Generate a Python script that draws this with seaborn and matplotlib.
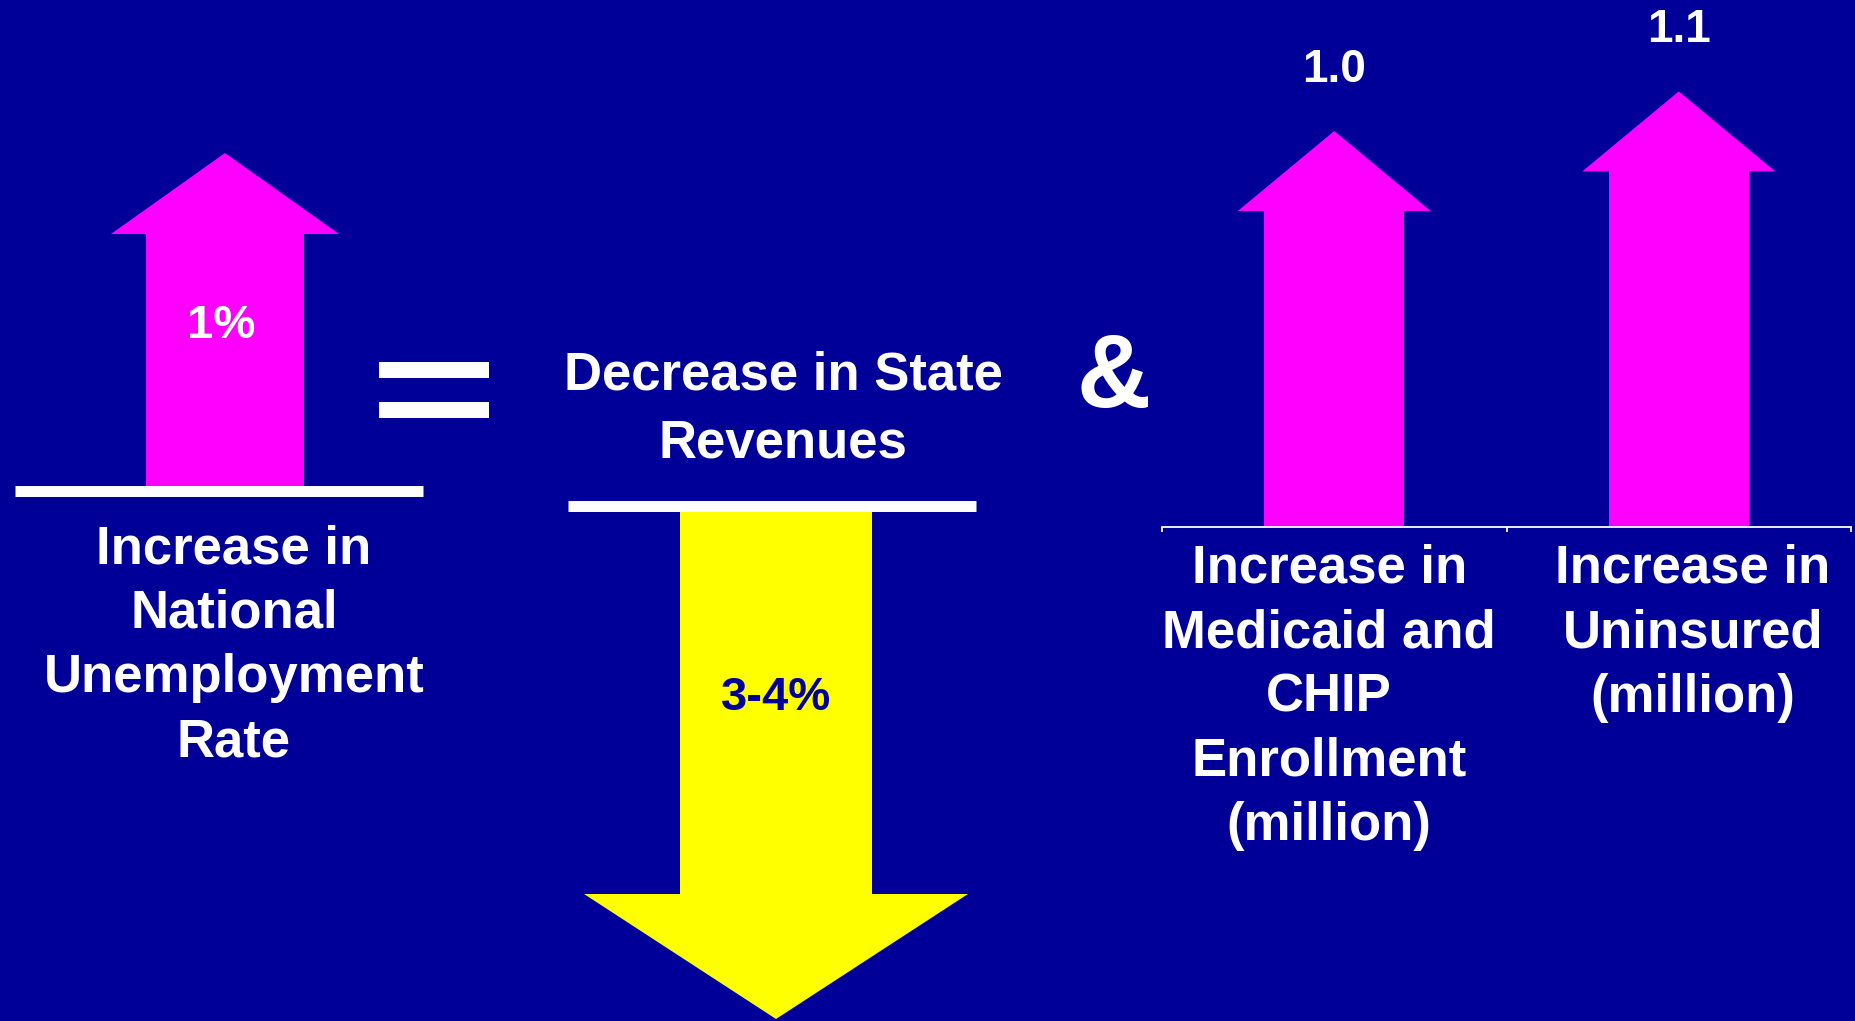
import matplotlib
matplotlib.use("Agg")
import matplotlib.pyplot as plt
from matplotlib.patches import Polygon, Rectangle
from matplotlib.transforms import ScaledTranslation
import seaborn as sns
import pandas as pd

# ---------------- data ----------------
unemployment_label = "Increase in\nNational\nUnemployment\nRate"
unemployment_rise = 1.0            # percentage points
unemployment_text = "1%"

revenue_label = "Decrease in State\nRevenues"
revenue_drop_range = [3.0, 4.0]    # percent
revenue_text = "3-4%"

coverage_categories = [
    "Increase in\nMedicaid and\nCHIP\nEnrollment\n(million)",
    "Increase in\nUninsured\n(million)",
]
coverage_values = [1.0, 1.1]       # million people
coverage_texts = ["1.0", "1.1"]

# ---------------- style ----------------
BG = "#000099"
MAGENTA = "#FF00FF"
YELLOW = "#FFFF00"
WHITE = "#FFFFFF"

W, H, DPI = 1856, 1021, 100

sns.set_theme(style="white")
plt.rcParams["font.family"] = ["Liberation Sans", "DejaVu Sans"]
plt.rcParams["font.weight"] = "bold"

fig = plt.figure(figsize=(W / DPI, H / DPI), dpi=DPI, facecolor=BG)


def px_axes(x0, y_top, x1, y_bottom):
    """Axes placed by pixel box measured from the top-left corner."""
    return fig.add_axes([x0 / W, 1 - y_bottom / H, (x1 - x0) / W, (y_bottom - y_top) / H])


def clear_axes(ax):
    ax.set_facecolor("none")
    for s in ax.spines.values():
        s.set_visible(False)
    ax.set_xticks([])
    ax.set_yticks([])
    ax.set_xlabel("")
    ax.set_ylabel("")


def base_bar(ax, side):
    sp = ax.spines[side]
    sp.set_visible(True)
    sp.set_color(WHITE)
    sp.set_linewidth(7.9)
    sp.set_capstyle("butt")


def arrow_head(ax, x, base, tip, width, color):
    ax.add_patch(Polygon([[x - width / 2, base], [x + width / 2, base], [x, tip]],
                         closed=True, facecolor=color, edgecolor="none", lw=0, zorder=2))


# ---------- unemployment arrow (up) ----------
ax1 = px_axes(15, 0, 423, 490.5)
px1 = 337.5                       # pixels per percentage point
head1 = 81 / px1
df1 = pd.DataFrame({"item": ["rate"], "shaft": [unemployment_rise - head1]})
sns.barplot(data=df1, x="item", y="shaft", color=MAGENTA, saturation=1,
            width=0.385, linewidth=0, edgecolor="none", ax=ax1)
arrow_head(ax1, 0, unemployment_rise - head1, unemployment_rise, 0.559, MAGENTA)
ax1.set_xlim(-0.5147, 0.4853)
ax1.set_ylim(0, 490.5 / px1)
clear_axes(ax1)
base_bar(ax1, "bottom")
ax1.text(-0.009, 0.452 * unemployment_rise, unemployment_text, ha="center", va="baseline",
         color=WHITE, fontsize=34, fontweight="bold")

# ---------- state revenue arrow (down) ----------
revenue_drop = sum(revenue_drop_range) / len(revenue_drop_range)
ax2 = px_axes(568, 506.5, 976, 1021)
px2 = (1019 - 506.5) / revenue_drop   # pixels per percent
head2 = 125 / px2
df2 = pd.DataFrame({"item": ["revenue"], "shaft": [-(revenue_drop - head2)]})
sns.barplot(data=df2, x="item", y="shaft", color=YELLOW, saturation=1,
            width=0.4706, linewidth=0, edgecolor="none", ax=ax2)
arrow_head(ax2, 0, -(revenue_drop - head2), -revenue_drop, 0.941, YELLOW)
ax2.set_xlim(-0.5098, 0.4902)
ax2.set_ylim(-(1021 - 506.5) / px2, 0)
clear_axes(ax2)
base_bar(ax2, "top")
ax2.text(0, -0.398 * revenue_drop, revenue_text, ha="center", va="baseline",
         color=BG, fontsize=34, fontweight="bold")

# ---------- coverage arrows ----------
ax3 = px_axes(1162, 0, 1851, 527)
px3 = 396                          # pixels per million
head3 = 80 / px3
df3 = pd.DataFrame({"label": coverage_categories, "value": coverage_values})
df3["shaft"] = df3["value"] - head3
sns.barplot(data=df3, x="label", y="shaft", color=MAGENTA, saturation=1,
            width=0.405, linewidth=0, edgecolor="none", ax=ax3)
for i, (v, t) in enumerate(zip(coverage_values, coverage_texts)):
    arrow_head(ax3, i, v - head3, v, 0.56, MAGENTA)
    ax3.text(i, v + 49 / px3, t, ha="center", va="baseline",
             color=WHITE, fontsize=33, fontweight="bold")
ax3.set_xlim(-0.5, 1.5)
ax3.set_ylim(0, 527 / px3)
ax3.set_facecolor("none")
for side in ["left", "right", "top"]:
    ax3.spines[side].set_visible(False)
ax3.spines["bottom"].set_color(WHITE)
ax3.spines["bottom"].set_linewidth(1.3)
ax3.set_yticks([])
ax3.set_xlabel("")
ax3.set_ylabel("")
ax3.set_xticks([-0.5, 0.5, 1.5], minor=True)
ax3.tick_params(axis="x", which="minor", bottom=True, length=3.8, width=1.3,
                color=WHITE, direction="out")
ax3.tick_params(axis="x", which="major", bottom=True, length=0, pad=12,
                labelsize=38, labelcolor=WHITE)
for lab, dx_px in zip(ax3.get_xticklabels(), [-5, 14]):
    lab.set_fontweight("bold")
    lab.set_linespacing(1.37)
    lab.set_transform(lab.get_transform() + ScaledTranslation(dx_px / DPI, 0, fig.dpi_scale_trans))

# ---------- connecting text and symbols ----------
fig.text(234 / W, 1 - 524 / H, unemployment_label, ha="center", va="top",
         color=WHITE, fontsize=38, fontweight="bold", linespacing=1.37)
fig.text(783 / W, 1 - 351 / H, revenue_label, ha="center", va="top",
         color=WHITE, fontsize=38, fontweight="bold", linespacing=1.45)
fig.text(1114 / W, 1 - 407 / H, "&", ha="center", va="baseline",
         color=WHITE, fontsize=74, fontweight="bold")

for y_top in (362, 402):
    fig.add_artist(Rectangle((379 / W, 1 - (y_top + 16) / H), 110 / W, 16 / H,
                             transform=fig.transFigure, facecolor=WHITE,
                             edgecolor="none"))

fig.savefig("out.png", dpi=DPI, facecolor=BG)
